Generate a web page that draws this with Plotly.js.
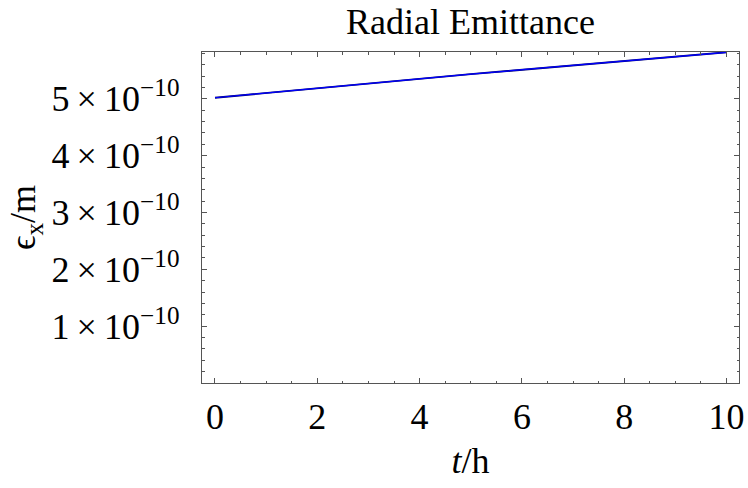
<!DOCTYPE html>
<html>
<head>
<meta charset="utf-8">
<script src="https://cdn.plot.ly/plotly-3.0.1.min.js"></script>
<style>body{margin:0;padding:0;background:#fff}</style>
</head>
<body>
<div id="chart" style="width:748px;height:488px"></div>
<script>
// data
var tHours = [0, 5, 10];
var emittance = [5.02e-10, 5.435e-10, 5.82e-10];
var xTickVals = [0, 2, 4, 6, 8, 10];
var xTickText = ['0', '2', '4', '6', '8', '10'];
var yTickVals = [1e-10, 2e-10, 3e-10, 4e-10, 5e-10];
var yTickText = ['1\u2009×\u200910<sup>−10</sup>', '2\u2009×\u200910<sup>−10</sup>', '3\u2009×\u200910<sup>−10</sup>', '4\u2009×\u200910<sup>−10</sup>', '5\u2009×\u200910<sup>−10</sup>'];

var FONT = '"Liberation Serif", "Times New Roman", serif';
var FS = 36;
var frameColor = '#555';

var traces = [
  {x: tHours, y: emittance, type: 'scatter', mode: 'lines', line: {color: '#000066', width: 1.9}, hoverinfo: 'skip', showlegend: false},
  {x: tHours, y: emittance, type: 'scatter', mode: 'lines', line: {color: '#0000ff', width: 1.2}, showlegend: false}
];

var layout = {
  width: 748, height: 488,
  margin: {l: 202, r: 9, t: 52, b: 105, autoexpand: false},
  paper_bgcolor: '#fff', plot_bgcolor: '#fff',
  font: {family: FONT, color: '#000', size: FS},
  showlegend: false,
  title: {text: 'Radial Emittance', font: {family: FONT, size: FS, color: '#000'}, x: 0.5, xref: 'paper', y: 0.957, yref: 'container', yanchor: 'middle'},
  xaxis: {
    range: [-0.254, 10.244], showgrid: false, zeroline: false,
    showline: true, linecolor: frameColor, linewidth: 1.3, mirror: 'ticks',
    ticks: 'inside', ticklen: 5, tickwidth: 1, tickcolor: frameColor,
    tickmode: 'array', tickvals: xTickVals, ticktext: xTickText,
    tickfont: {family: FONT, size: FS, color: '#000'}, ticklabelstandoff: 1,
    minor: {dtick: 0.5, tick0: 0, ticks: 'inside', ticklen: 2.5, tickwidth: 1, tickcolor: frameColor, showgrid: false},
    title: {text: '<i>t</i>/h', font: {family: FONT, size: FS, color: '#000'}, standoff: 12}
  },
  yaxis: {
    range: [0, 5.825e-10], showgrid: false, zeroline: false,
    showline: true, linecolor: frameColor, linewidth: 1.3, mirror: 'ticks',
    ticks: 'inside', ticklen: 5, tickwidth: 1, tickcolor: frameColor,
    tickmode: 'array', tickvals: yTickVals, ticktext: yTickText,
    tickfont: {family: FONT, size: FS, color: '#000'}, ticklabelstandoff: 14,
    minor: {dtick: 0.2e-10, tick0: 0, ticks: 'inside', ticklen: 2.5, tickwidth: 1, tickcolor: frameColor, showgrid: false},
    title: {text: 'ϵ<sub>x</sub>/m', font: {family: FONT, size: FS, color: '#000'}, standoff: 4}
  }
};

Plotly.newPlot('chart', traces, layout, {displayModeBar: false, staticPlot: true});
</script>
</body>
</html>
